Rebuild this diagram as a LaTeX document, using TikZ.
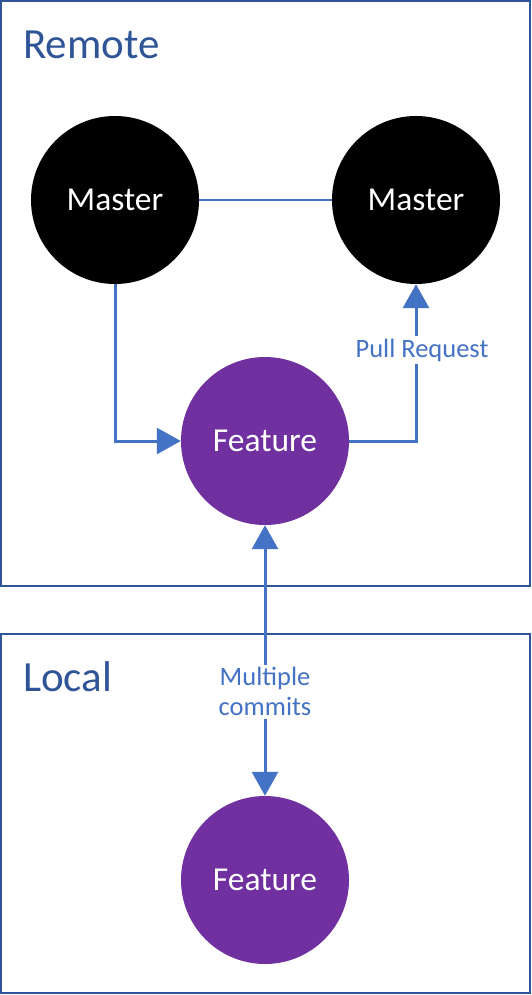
\documentclass[tikz,border=0pt]{standalone}
\usepackage{fontspec}
\setmainfont{Carlito}
\usetikzlibrary{arrows.meta}

\definecolor{boxblue}{HTML}{2F5597}
\definecolor{linkblue}{HTML}{4472C4}
\definecolor{featpurple}{HTML}{7030A0}

\tikzstyle{branch}=[circle, minimum size=168pt, inner sep=0pt, text=white, font=\fontsize{33.5}{40}\selectfont]
\tikzstyle{master}=[branch, fill=black]
\tikzstyle{feature}=[branch, fill=featpurple]
\tikzstyle{area}=[draw=boxblue, line width=2pt]
\tikzstyle{title}=[anchor=west, inner sep=0pt, text=boxblue, font=\fontsize{43}{50}\selectfont]
\tikzstyle{link}=[draw=linkblue, line width=3pt, >={Triangle[length=24pt,width=26pt]}]
\tikzstyle{note}=[fill=white, text=linkblue, font=\fontsize{26.5}{30}\selectfont, inner sep=3pt, align=center]

\begin{document}
\begin{tikzpicture}[x=1pt, y=-1pt]
    \useasboundingbox (0,0) rectangle (532,995);
    % boxes
    \draw[area] (1,1) rectangle (530,586);
    \draw[area] (1,634) rectangle (530,993);
    \node[title] at (23,45) (remote) {Remote};
    \node[title] at (23,677) (local) {Local};
    % branches
    \node[master] at (115,200) (M1) {Master};
    \node[master] at (416,200) (M2) {Master};
    \node[feature] at (265,441) (F1) {Feature};
    \node[feature] at (265,880) (F2) {Feature};
    % links
    \draw[link, line width=2pt] (M1.east) -- (M2.west);
    \draw[link, ->] (M1.south) |- (F1.west);
    \draw[link, ->] (F1.east) -| node[note, pos=0.79, xshift=6pt]{Pull Request} (M2.south);
    \draw[link, <->] (F1.south) -- node[note, pos=0.616]{Multiple\\commits} (F2.north);
\end{tikzpicture}
\end{document}
